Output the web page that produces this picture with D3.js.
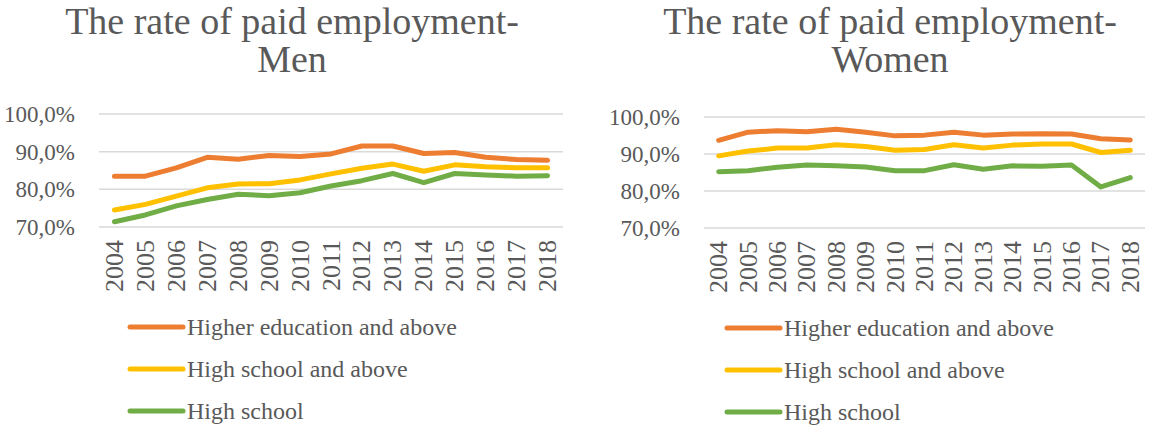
<!DOCTYPE html>
<html>
<head>
<meta charset="utf-8">
<script src="https://cdn.jsdelivr.net/npm/d3@7"></script>
<style>
  html, body { margin: 0; padding: 0; background: #ffffff; }
</style>
</head>
<body>
<svg id="chart" width="1154" height="429"></svg>
<script>
// Years on the category axis
const years = ["2004","2005","2006","2007","2008","2009","2010","2011","2012","2013","2014","2015","2016","2017","2018"];

// Y axis ticks
const yTicks = [0.7, 0.8, 0.9, 1.0];

// Series names and colours
const seriesNames = ["Higher education and above", "High school and above", "High school"];
const seriesColors = ["#ED7D31", "#FFC000", "#70AD47"];

// Men: paid employment rate by education level
const menHigherEdu = [0.835,0.835,0.857,0.885,0.880,0.890,0.887,0.894,0.915,0.915,0.895,0.898,0.885,0.879,0.877];
const menHighSchoolAbove = [0.745,0.760,0.782,0.804,0.814,0.815,0.825,0.841,0.856,0.867,0.848,0.865,0.860,0.857,0.857];
const menHighSchool = [0.714,0.732,0.756,0.773,0.787,0.783,0.791,0.809,0.823,0.842,0.818,0.842,0.838,0.835,0.836];

// Women: paid employment rate by education level
const womenHigherEdu = [0.937,0.959,0.963,0.960,0.967,0.959,0.949,0.951,0.959,0.951,0.954,0.955,0.954,0.941,0.938];
const womenHighSchoolAbove = [0.895,0.908,0.916,0.916,0.925,0.920,0.910,0.912,0.925,0.916,0.924,0.927,0.927,0.904,0.910];
const womenHighSchool = [0.852,0.855,0.864,0.870,0.868,0.865,0.855,0.855,0.871,0.859,0.868,0.867,0.870,0.811,0.836];

const FONT = "Liberation Serif";
const TEXT_COLOR = "#595959";

const svg = d3.select("#chart");
const fmt = v => d3.format(".1f")(v * 100).replace(".", ",") + "%";

// Apply the serif face, size and colour to a text selection
function styleText(sel, size) {
  return sel.attr("font-family", FONT)
    .style("font-family", FONT)
    .attr("font-size", size)
    .attr("fill", TEXT_COLOR);
}

function drawPanel(cfg) {
  const g = svg.append("g");
  const x = d3.scalePoint().domain(years).range([cfg.left, cfg.right]).padding(0.5);
  const y = d3.scaleLinear().domain([0.7, 1.0]).range([cfg.bottom, cfg.top]);

  // Title (two lines)
  const title = styleText(g.append("text"), 38)
    .attr("x", cfg.titleX)
    .attr("text-anchor", "middle");
  title.append("tspan").attr("x", cfg.titleX).attr("y", 34).text("The rate of paid employment-");
  title.append("tspan").attr("x", cfg.titleX).attr("y", 72).text(cfg.subtitle);

  // Horizontal gridlines
  g.append("g").selectAll("line").data(yTicks).join("line")
    .attr("x1", cfg.left).attr("x2", cfg.right)
    .attr("y1", d => y(d)).attr("y2", d => y(d))
    .attr("stroke", "#d9d9d9").attr("stroke-width", 1.5);

  // Y tick labels
  styleText(g.append("g").selectAll("text").data(yTicks).join("text"), 23)
    .attr("x", cfg.labelX)
    .attr("y", d => y(d))
    .attr("dy", "0.35em")
    .attr("text-anchor", "end")
    .text(fmt);

  // X tick labels (rotated)
  styleText(g.append("g").selectAll("text").data(years).join("text"), 26)
    .attr("transform", d => `translate(${x(d) + 8.5},${cfg.bottom + 13}) rotate(-90)`)
    .attr("text-anchor", "end")
    .text(d => d);

  // Series lines
  const line = d3.line().x((d, i) => x(years[i])).y(d => y(d));
  cfg.series.forEach((vals, i) => {
    g.append("path")
      .datum(vals)
      .attr("d", line)
      .attr("fill", "none")
      .attr("stroke", seriesColors[i])
      .attr("stroke-width", 5)
      .attr("stroke-linejoin", "round")
      .attr("stroke-linecap", "round");
  });

  // Legend
  seriesNames.forEach((name, i) => {
    const ly = cfg.legendY[i];
    g.append("line")
      .attr("x1", cfg.legendX).attr("x2", cfg.legendX + 53)
      .attr("y1", ly).attr("y2", ly)
      .attr("stroke", seriesColors[i]).attr("stroke-width", 5)
      .attr("stroke-linecap", "round");
    styleText(g.append("text"), 24)
      .attr("x", cfg.legendX + 57)
      .attr("y", ly)
      .attr("dy", "0.35em")
      .text(name);
  });
}

drawPanel({
  subtitle: "Men",
  titleX: 292,
  left: 99, right: 563, top: 114, bottom: 227,
  labelX: 75,
  legendX: 130,
  legendY: [327, 369, 411],
  series: [menHigherEdu, menHighSchoolAbove, menHighSchool]
});

drawPanel({
  subtitle: "Women",
  titleX: 890,
  left: 704, right: 1145, top: 117, bottom: 228,
  labelX: 680,
  legendX: 727,
  legendY: [328, 370, 412],
  series: [womenHigherEdu, womenHighSchoolAbove, womenHighSchool]
});
</script>
</body>
</html>
